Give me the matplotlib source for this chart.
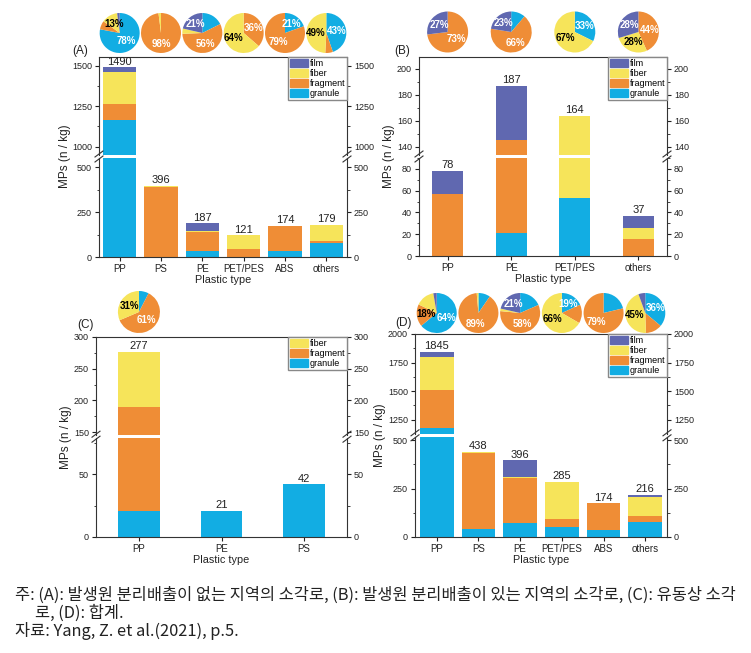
import numpy as np
import matplotlib.pyplot as plt
from matplotlib.patches import Patch
from matplotlib.lines import Line2D
from matplotlib.ticker import AutoMinorLocator

plt.rcParams['font.family'] = ['Liberation Sans', 'DejaVu Sans']

W, H = 751, 653

COLORS = {
    'granule': '#12ade3',
    'fragment': '#ef8d36',
    'fiber': '#f6e45a',
    'film': '#6068b0',
}
TEXT_ON = {'granule': 'white', 'fragment': 'white', 'fiber': 'black', 'film': 'white'}

# (A) incinerators without source separation
a_types = ['PP', 'PS', 'PE', 'PET/PES', 'ABS', 'others']
a_granule = [1162, 0, 33, 0, 34, 80]
a_fragment = [104, 388, 106, 44, 140, 11]
a_fiber = [194, 8, 8, 77, 0, 88]
a_film = [30, 0, 40, 0, 0, 0]
a_pie_labels = [['78%', '', '13%', ''], ['', '98%', '', ''], ['', '56%', '', '21%'],
                ['', '36%', '64%', ''], ['21%', '79%', '', ''], ['43%', '', '49%', '']]

# (B) incinerators with source separation
b_types = ['PP', 'PE', 'PET/PES', 'others']
b_granule = [0, 21, 53, 0]
b_fragment = [57, 124, 0, 16]
b_fiber = [0, 0, 111, 10]
b_film = [21, 42, 0, 11]
b_pie_labels = [['', '73%', '', '27%'], ['', '66%', '', '23%'],
                ['33%', '', '67%', ''], ['', '44%', '28%', '28%']]

# (C) fluidized bed incinerator
c_types = ['PP', 'PE', 'PS']
c_granule = [21, 21, 42]
c_fragment = [169, 0, 0]
c_fiber = [87, 0, 0]
c_pie_labels = [['', '61%', '31%']]

# (D) total
d_types = ['PP', 'PS', 'PE', 'PET/PES', 'ABS', 'others']
d_granule = [1181, 42, 73, 52, 37, 78]
d_fragment = [332, 390, 230, 43, 137, 29]
d_fiber = [282, 6, 8, 190, 0, 97]
d_film = [50, 0, 85, 0, 0, 12]
d_pie_labels = [['64%', '18%', '', ''], ['', '89%', '', ''], ['', '58%', '', '21%'],
                ['19%', '', '66%', ''], ['', '79%', '', ''], ['36%', '', '45%', '']]

caption = ['주: (A): 발생원 분리배출이 없는 지역의 소각로, (B): 발생원 분리배출이 있는 지역의 소각로, (C): 유동상 소각',
           '로, (D): 합계.',
           '자료: Yang, Z. et al.(2021), p.5.']


def px_rect(left, top, right, bottom):
    return [left / W, 1 - bottom / H, (right - left) / W, (bottom - top) / H]


def slash(fig, x, y):
    fig.add_artist(Line2D([(x - 4) / W, (x + 4) / W], [1 - (y + 3) / H, 1 - (y - 3) / H],
                          transform=fig.transFigure, color='#333333', lw=0.8))


def draw_panel(fig, frame, split, types, parts, lo_lim, hi_lim, lo_ticks, hi_ticks,
               bar_w, pad, pie_labels, pie_y, pie_d, tag, tag_xy, ylab_x):
    left, top, right, bottom = frame
    gap = 3
    ax_hi = fig.add_axes(px_rect(left, top, right, split - gap / 2))
    ax_lo = fig.add_axes(px_rect(left, split + gap / 2, right, bottom))
    x = np.arange(len(types))
    for ax in (ax_hi, ax_lo):
        base = np.zeros(len(types))
        for name, vals in parts:
            ax.bar(x, vals, bar_w, bottom=base, color=COLORS[name], linewidth=0)
            base = base + np.array(vals)
        ax.set_xlim(-pad, len(types) - 1 + pad)
        ax.yaxis.set_minor_locator(AutoMinorLocator(2))
        ax.tick_params(axis='y', which='both', direction='out', left=True, right=True,
                       labelright=True, labelsize=6.5, colors='#222222', pad=2)
        ax.tick_params(axis='y', which='major', length=3)
        ax.tick_params(axis='y', which='minor', length=1.8)
        for sp in ax.spines.values():
            sp.set_linewidth(0.8)
            sp.set_color('#333333')
    totals = base
    ax_hi.set_ylim(*hi_lim)
    ax_hi.set_yticks(hi_ticks)
    ax_lo.set_ylim(*lo_lim)
    ax_lo.set_yticks(lo_ticks)
    ax_hi.spines['bottom'].set_visible(False)
    ax_lo.spines['top'].set_visible(False)
    ax_hi.tick_params(axis='x', bottom=False, labelbottom=False)
    ax_lo.set_xticks(x)
    ax_lo.set_xticklabels(types, fontsize=7)
    ax_lo.tick_params(axis='x', direction='out', length=3, pad=2, colors='#222222')

    for i, t in enumerate(totals):
        ax = ax_hi if t > hi_lim[0] else ax_lo
        ax.annotate(f'{int(t)}', (i, t), xytext=(0, 0.5), textcoords='offset points',
                    ha='center', va='bottom', fontsize=8, color='#222222')

    names = [n for n, _ in parts]
    handles = [Patch(color=COLORS[n]) for n in reversed(names)]
    leg = ax_hi.legend(handles, list(reversed(names)), loc='upper right', borderaxespad=0,
                       fontsize=6.5, handlelength=2.0, handleheight=1.0, labelspacing=0.1,
                       handletextpad=0.2, borderpad=0.2, fancybox=False, framealpha=1)
    leg.get_frame().set_edgecolor('#888888')
    leg.get_frame().set_linewidth(1.0)

    slash(fig, left, split + gap / 2 + 1)
    slash(fig, left, split - gap / 2 - 1)
    slash(fig, right, split + gap / 2 + 1)
    slash(fig, right, split - gap / 2 - 1)

    # pies above bars
    inv = fig.transFigure.inverted()
    for i, labels in enumerate(pie_labels):
        cx = inv.transform(ax_lo.transData.transform((i, 0)))[0] * W
        pax = fig.add_axes(px_rect(cx - pie_d / 2, pie_y - pie_d / 2, cx + pie_d / 2, pie_y + pie_d / 2))
        sizes = np.array([vals[i] for _, vals in parts], dtype=float)
        pax.pie(sizes, colors=[COLORS[n] for n in names], startangle=90, counterclock=False,
                wedgeprops=dict(linewidth=0))
        frac = sizes / sizes.sum()
        start = 0.0
        for n, f, lab in zip(names, frac, labels):
            if lab:
                ang = np.deg2rad(90 - 360 * (start + f / 2))
                r = 0.55
                # small orange slices carry dark text in the source figure
                color = 'black' if (n == 'fragment' and f < 0.25) else TEXT_ON[n]
                pax.text(r * np.cos(ang), r * np.sin(ang), lab, ha='center', va='center',
                         fontsize=7, fontweight='bold', color=color)
            start += f
        pax.set_xlim(-1, 1)
        pax.set_ylim(-1, 1)
        pax.set_aspect('equal')

    fig.text(tag_xy[0] / W, 1 - tag_xy[1] / H, tag, fontsize=8.5, ha='center', va='center',
             color='#222222')
    fig.text(ylab_x / W, 1 - split / H, 'MPs (n / kg)', rotation=90, fontsize=8.5,
             ha='center', va='center', color='#222222')
    fig.text((left + right) / 2 / W, 1 - (bottom + 23) / H, 'Plastic type', fontsize=7.8,
             ha='center', va='center', color='#222222')


fig = plt.figure(figsize=(W / 100, H / 100), dpi=100)

draw_panel(fig, (99, 57, 347, 257), 156.5, a_types,
           [('granule', a_granule), ('fragment', a_fragment), ('fiber', a_fiber), ('film', a_film)],
           (0, 552), (949, 1553), [0, 250, 500], [1000, 1250, 1500],
           0.8, 0.5, a_pie_labels, 33, 40, '(A)', (80, 51), 65)

draw_panel(fig, (419, 57, 667, 256), 156.5, b_types,
           [('granule', b_granule), ('fragment', b_fragment), ('fiber', b_fiber), ('film', b_film)],
           (0, 90), (133.7, 209), [0, 20, 40, 60, 80], [140, 160, 180, 200],
           0.49, 0.45, b_pie_labels, 32, 41, '(B)', (402, 51), 389)

draw_panel(fig, (96, 337, 347, 537), 436.7, c_types,
           [('granule', c_granule), ('fragment', c_fragment), ('fiber', c_fiber)],
           (0, 78.6), (145, 300), [0, 50], [150, 200, 250, 300],
           0.5, 0.52, c_pie_labels, 312, 42, '(C)', (85, 325), 66)

draw_panel(fig, (415, 334, 667, 537), 435.3, d_types,
           [('granule', d_granule), ('fragment', d_fragment), ('fiber', d_fiber), ('film', d_film)],
           (0, 517), (1126, 2000), [0, 250, 500], [1250, 1500, 1750, 2000],
           0.81, 0.52, d_pie_labels, 313, 40, '(D)', (403, 323), 380)

cap_font = ['Noto Sans CJK KR', 'DejaVu Sans']
cap_size = 11.8
fig.text(15 / W, 1 - 595 / H, caption[0], fontsize=cap_size, family=cap_font, va='center', color='#222222')
fig.text(35 / W, 1 - 613 / H, caption[1], fontsize=cap_size, family=cap_font, va='center', color='#222222')
fig.text(15 / W, 1 - 631 / H, caption[2], fontsize=cap_size, family=cap_font, va='center', color='#222222')

fig.savefig('out.png', dpi=100)
